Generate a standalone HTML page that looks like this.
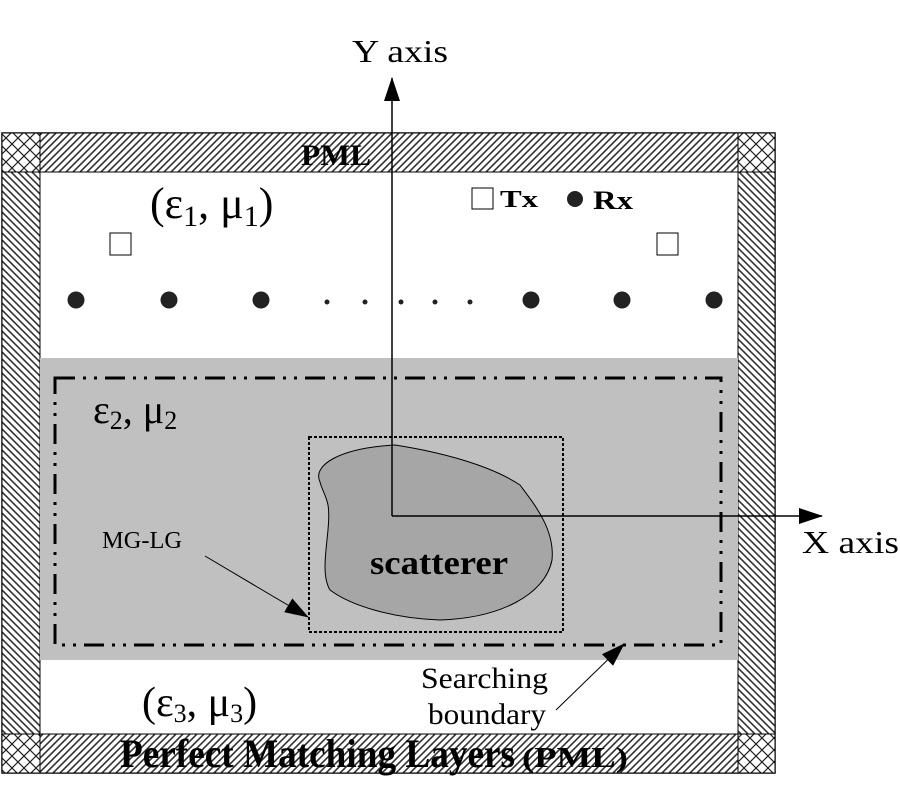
<!DOCTYPE html>
<html><head><style>body{margin:0;background:#fff}svg{display:block}</style></head><body>
<svg width="900" height="800" viewBox="0 0 900 800" xmlns="http://www.w3.org/2000/svg" font-family="Liberation Serif, serif">
<defs>
<pattern id="h1" width="7" height="7" patternUnits="userSpaceOnUse"><rect width="7" height="7" fill="#fff"/><path d="M-2,9 L9,-2 M-2,2 L2,-2 M5,9 L9,5" stroke="#333" stroke-width="1.6"/></pattern>
<pattern id="h2" width="7" height="7" patternUnits="userSpaceOnUse"><rect width="7" height="7" fill="#fff"/><path d="M-2,-2 L9,9 M-2,5 L2,9 M5,-2 L9,2" stroke="#333" stroke-width="1.6"/></pattern>
<pattern id="hx" width="12" height="12" patternUnits="userSpaceOnUse"><rect width="12" height="12" fill="#fff"/><path d="M0,0 L12,12 M12,0 L0,12" stroke="#222" stroke-width="1.2"/></pattern>
<marker id="ar2" markerWidth="24" markerHeight="16" refX="23" refY="8" orient="auto" markerUnits="userSpaceOnUse"><path d="M0,0 L24,8 L0,16 z" fill="#000"/></marker>
</defs>
<rect x="2" y="133" width="773" height="640" fill="#fff" stroke="#000" stroke-width="1.5"/>
<rect x="2" y="133" width="773" height="39" fill="url(#h1)" stroke="#000"/>
<rect x="2" y="734" width="773" height="39" fill="url(#h1)" stroke="#000"/>
<rect x="2" y="172" width="38" height="562" fill="url(#h2)" stroke="#000"/>
<rect x="738" y="172" width="37" height="562" fill="url(#h2)" stroke="#000"/>
<rect x="2" y="133" width="38" height="39" fill="url(#hx)" stroke="#000"/>
<rect x="738" y="133" width="37" height="39" fill="url(#hx)" stroke="#000"/>
<rect x="2" y="734" width="38" height="39" fill="url(#hx)" stroke="#000"/>
<rect x="738" y="734" width="37" height="39" fill="url(#hx)" stroke="#000"/>
<rect x="40" y="358" width="698" height="302" fill="#c0c0c0"/>
<rect x="55" y="378" width="666" height="267" fill="none" stroke="#000" stroke-width="3" stroke-dasharray="20 8 3 8 3 8"/>
<rect x="309" y="437" width="254" height="195" fill="none" stroke="#000" stroke-width="2" stroke-dasharray="3 2"/>
<path d="M320,482 C312,465 340,448 395,445 C440,452 490,465 520,485 C535,505 555,530 552,560 C545,595 500,618 440,620 C390,618 350,605 330,590 C318,570 332,530 328,505 C326,495 322,490 320,482 Z" fill="#a6a6a6" stroke="#000" stroke-width="1"/>
<text x="370" y="574" font-size="34" font-weight="bold" textLength="138" lengthAdjust="spacingAndGlyphs">scatterer</text>
<line x1="392" y1="516" x2="392" y2="78" stroke="#000" stroke-width="1.5" marker-end="url(#ar2)"/>
<line x1="392" y1="516" x2="822" y2="516" stroke="#000" stroke-width="1.5" marker-end="url(#ar2)"/>
<text x="352" y="62" font-size="32" textLength="96" lengthAdjust="spacingAndGlyphs">Y axis</text>
<text x="802" y="553" font-size="32" textLength="97" lengthAdjust="spacingAndGlyphs">X axis</text>
<text x="301" y="165" font-size="30" font-weight="bold" textLength="70" lengthAdjust="spacingAndGlyphs">PML</text>
<text x="120" y="767" font-size="40" font-weight="bold" textLength="395" lengthAdjust="spacingAndGlyphs">Perfect Matching Layers</text>
<text x="522" y="767" font-size="28" font-weight="bold" textLength="106" lengthAdjust="spacingAndGlyphs">(PML)</text>
<text x="150" y="218" font-size="44">(ε<tspan font-size="30" dy="8">1</tspan><tspan dy="-8">, μ</tspan><tspan font-size="30" dy="8">1</tspan><tspan dy="-8">)</tspan></text>
<text x="93" y="423" font-size="40">ε<tspan font-size="26" dy="6">2</tspan><tspan dy="-6">, μ</tspan><tspan font-size="26" dy="6">2</tspan></text>
<text x="142" y="716" font-size="42">(ε<tspan font-size="26" dy="6">3</tspan><tspan dy="-6">, μ</tspan><tspan font-size="26" dy="6">3</tspan><tspan dy="-6">)</tspan></text>
<rect x="110" y="233" width="21" height="22" fill="#fff" stroke="#000"/>
<rect x="657" y="233" width="21" height="22" fill="#fff" stroke="#000"/>
<rect x="472" y="188" width="21" height="21" fill="#fff" stroke="#000"/>
<text x="500" y="207" font-size="24" font-weight="bold" textLength="38" lengthAdjust="spacingAndGlyphs">Tx</text>
<circle cx="575" cy="199" r="8" fill="#222"/>
<text x="593" y="209" font-size="26" font-weight="bold" textLength="40" lengthAdjust="spacingAndGlyphs">Rx</text>
<g fill="#222">
<circle cx="76" cy="300" r="8.5"/><circle cx="169" cy="300" r="8.5"/><circle cx="261" cy="300" r="8.5"/>
<circle cx="327" cy="302" r="2.5"/><circle cx="365" cy="302" r="2.5"/><circle cx="401" cy="302" r="2.5"/><circle cx="435" cy="302" r="2.5"/><circle cx="470" cy="302" r="2.5"/>
<circle cx="531" cy="300" r="8.5"/><circle cx="622" cy="300" r="8.5"/><circle cx="714" cy="300" r="8.5"/>
</g>
<text x="102" y="548" font-size="24" textLength="80" lengthAdjust="spacingAndGlyphs">MG-LG</text>
<line x1="205" y1="556" x2="308" y2="617" stroke="#000" stroke-width="1" marker-end="url(#ar2)"/>
<text x="421" y="688" font-size="30" textLength="127" lengthAdjust="spacingAndGlyphs">Searching</text>
<text x="428" y="724" font-size="30" textLength="118" lengthAdjust="spacingAndGlyphs">boundary</text>
<line x1="556" y1="710" x2="624" y2="644" stroke="#000" stroke-width="1" marker-end="url(#ar2)"/>
</svg>
</body></html>
